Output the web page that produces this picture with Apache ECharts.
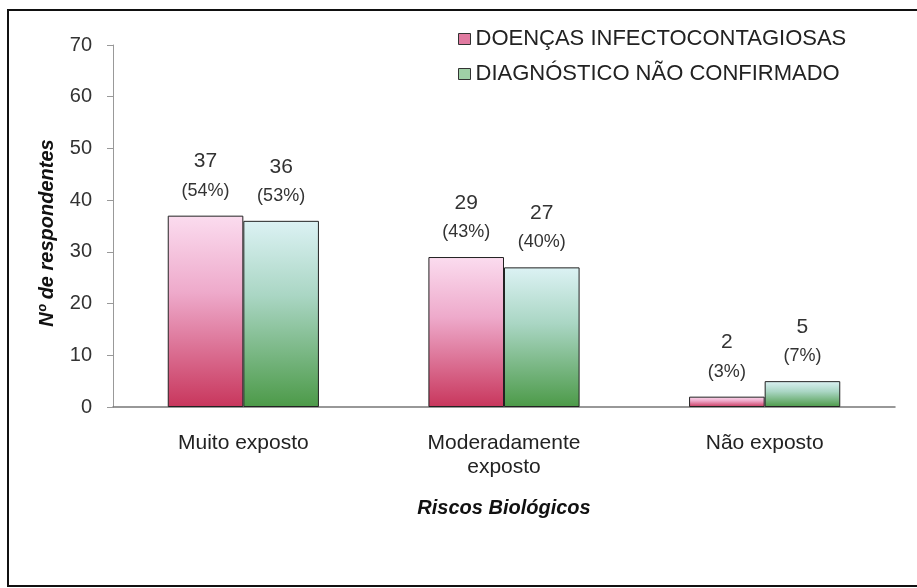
<!DOCTYPE html>
<html>
<head>
<meta charset="utf-8">
<script src="https://cdn.jsdelivr.net/npm/echarts@6/dist/echarts.min.js"></script>
<style>
html, body { margin: 0; padding: 0; background: #fff; }
#chartBox { width: 917px; height: 588px; }
</style>
</head>
<body>
<div id="chartBox"></div>
<script>
// dados do gráfico
const categorias = ['Muito exposto', 'Moderadamente\nexposto', 'Não exposto'];
const serieNomes = ['DOENÇAS INFECTOCONTAGIOSAS', 'DIAGNÓSTICO NÃO CONFIRMADO'];
const doencas = [37, 29, 2];
const doencasPct = ['54%', '43%', '3%'];
const diagnostico = [36, 27, 5];
const diagnosticoPct = ['53%', '40%', '7%'];
const yTicks = [0, 10, 20, 30, 40, 50, 60, 70];

const chartDom = document.getElementById('chartBox');
const myChart = echarts.init(chartDom);

// rótulo "valor \n (pct)" acima das barras
function labelFor(pcts) {
    return {
        show: true,
        position: 'top',
        distance: 13,
        formatter: function (p) {
            return '{v|' + p.value + '}\n{p|(' + pcts[p.dataIndex] + ')}';
        },
        rich: {
            v: { fontSize: 21, color: '#333', fontFamily: 'Liberation Sans', lineHeight: 34 },
            p: { fontSize: 18, color: '#333', fontFamily: 'Liberation Sans', lineHeight: 24 }
        }
    };
}

const option = {
    backgroundColor: '#fff',
    textStyle: { fontFamily: 'Liberation Sans' },
    graphic: [{
        type: 'rect',
        shape: { x: 8, y: 10, width: 930, height: 576 },
        style: { fill: 'none', stroke: '#111', lineWidth: 2 }
    }],
    legend: {
        orient: 'vertical',
        left: 453,
        top: 23,
        icon: 'rect',
        itemWidth: 12,
        itemHeight: 11,
        itemGap: 13,
        textStyle: { fontSize: 22, color: '#222', fontFamily: 'Liberation Sans' },
        data: [
            { name: serieNomes[0], itemStyle: { color: '#e07aa0', borderColor: '#333', borderWidth: 1 } },
            { name: serieNomes[1], itemStyle: { color: '#9fd0a6', borderColor: '#333', borderWidth: 1 } }
        ]
    },
    grid: { left: 113, right: 22, top: 45, bottom: 181 },
    xAxis: {
        type: 'category',
        data: categorias,
        name: 'Riscos Biológicos',
        nameLocation: 'middle',
        nameGap: 91,
        nameTextStyle: { fontSize: 20, fontStyle: 'italic', fontWeight: 'bold', color: '#111' },
        axisLine: { lineStyle: { color: '#777', width: 1.5 } },
        axisTick: { show: false },
        axisLabel: { fontSize: 21, color: '#222', margin: 24, lineHeight: 24 }
    },
    yAxis: {
        type: 'value',
        min: 0,
        max: yTicks[yTicks.length - 1],
        interval: 10,
        name: 'Nº de respondentes',
        nameLocation: 'middle',
        nameGap: 56,
        nameTextStyle: { fontSize: 20, fontStyle: 'italic', fontWeight: 'bold', color: '#111', padding: [0, 14, 0, 0] },
        axisLine: { show: true, lineStyle: { color: '#999' } },
        axisTick: { show: true, inside: false, length: 6, lineStyle: { color: '#999' } },
        splitLine: { show: false },
        axisLabel: { fontSize: 20, color: '#333', margin: 21 }
    },
    series: [
        {
            name: serieNomes[0],
            type: 'bar',
            data: doencas,
            barGap: '0%',
            barCategoryGap: '42%',
            itemStyle: {
                color: new echarts.graphic.LinearGradient(0, 0, 0, 1, [
                    { offset: 0, color: '#fbdcef' },
                    { offset: 0.4, color: '#eeaacb' },
                    { offset: 1, color: '#c8365c' }
                ]),
                borderColor: '#222',
                borderWidth: 1
            },
            label: labelFor(doencasPct)
        },
        {
            name: serieNomes[1],
            type: 'bar',
            data: diagnostico,
            itemStyle: {
                color: new echarts.graphic.LinearGradient(0, 0, 0, 1, [
                    { offset: 0, color: '#dcf2f4' },
                    { offset: 0.4, color: '#aad6c4' },
                    { offset: 1, color: '#4c9a48' }
                ]),
                borderColor: '#222',
                borderWidth: 1
            },
            label: labelFor(diagnosticoPct)
        }
    ]
};
myChart.setOption(option);
</script>
</body>
</html>
